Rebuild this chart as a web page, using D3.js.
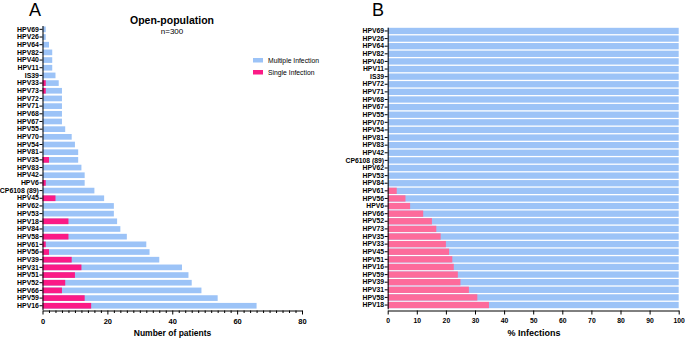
<!DOCTYPE html>
<html><head><meta charset="utf-8">
<script src="https://cdn.jsdelivr.net/npm/d3@7"></script>
<style>
body{margin:0;background:#fff;}
svg{display:block;font-family:"Liberation Sans",Arial,sans-serif;}
</style></head>
<body><svg id="c" width="685" height="338"></svg>
<script>
const categoriesA = ["HPV69","HPV26","HPV64","HPV82","HPV40","HPV11","IS39","HPV33","HPV73","HPV72","HPV71","HPV68","HPV67","HPV55","HPV70","HPV54","HPV81","HPV35","HPV83","HPV42","HPV6","CP6108 (89)","HPV45","HPV62","HPV53","HPV18","HPV84","HPV58","HPV61","HPV56","HPV39","HPV31","HPV51","HPV52","HPV66","HPV59","HPV16"];
const totalA  = [1,1,2,3,3,3,4,5,6,6,6,6,6,7,9,10,11,11,12,13,13,16,19,22,22,23,24,26,32,33,36,43,45,46,49,54,66];
const singleA = [0,0,0,0,0,0,0,1,1,0,0,0,0,0,0,0,0,2,0,0,1,0,4,0,0,8,0,8,1,2,9,12,10,7,6,13,15];
const ticksA = [0,20,40,60,80];

const categoriesB = ["HPV69","HPV26","HPV64","HPV82","HPV40","HPV11","IS39","HPV72","HPV71","HPV68","HPV67","HPV55","HPV70","HPV54","HPV81","HPV83","HPV42","CP6108 (89)","HPV62","HPV53","HPV84","HPV61","HPV56","HPV6","HPV66","HPV52","HPV73","HPV35","HPV33","HPV45","HPV51","HPV16","HPV59","HPV39","HPV31","HPV58","HPV18"];
const singlePctB = [0,0,0,0,0,0,0,0,0,0,0,0,0,0,0,0,0,0,0,0,0,3.1,6.1,7.7,12.2,15.2,16.7,18.2,20,21.1,22.2,22.7,24.1,25,27.9,30.8,34.8];
const ticksB = [0,10,20,30,40,50,60,70,80,90,100];

const BLUE = "#9cc3f7", PINK_A = "#fb1a86", PINK_B = "#fd6b9b";
const svg = d3.select("#c");

function styleAxis(a, size){
  a.selectAll("text").attr("font-weight","bold").attr("fill","#000")
   .attr("font-family","Liberation Sans, Arial").attr("font-size",size);
  a.selectAll(".domain, .tick line").attr("stroke","#000").attr("stroke-width",1);
}

// ---------- Panel A ----------
const xA = d3.scaleLinear().domain([0,80]).range([42.5,302]);
const yA = d3.scaleBand().domain(categoriesA).range([25.5,309.6]).paddingInner(0.26).paddingOuter(0.13);
const gA = svg.append("g");
gA.selectAll("rect.t").data(categoriesA).join("rect")
  .attr("x", xA(0)).attr("y", d=>yA(d)).attr("height", yA.bandwidth())
  .attr("width", (d,i)=>xA(totalA[i])-xA(0)).attr("fill", BLUE);
gA.selectAll("rect.s").data(categoriesA).join("rect")
  .attr("x", xA(0)).attr("y", d=>yA(d)).attr("height", yA.bandwidth())
  .attr("width", (d,i)=>xA(singleA[i])-xA(0)).attr("fill", PINK_A);

const axA = gA.append("g").attr("transform","translate(0,310.5)")
  .call(d3.axisBottom(xA).tickValues(ticksA).tickSize(4).tickSizeOuter(0));
styleAxis(axA, 7.5);
axA.selectAll("text").attr("dy","0.85em");
const mnA = gA.append("g").attr("transform","translate(0,310.5)")
  .call(d3.axisBottom(xA).tickValues(d3.range(0,81,2).filter(v=>v%20)).tickSize(2.5).tickFormat(""));
mnA.select(".domain").remove();
mnA.selectAll(".tick line").attr("stroke","#000");
const ayA = gA.append("g").attr("transform","translate(42.5,0)")
  .call(d3.axisLeft(yA).tickSize(3).tickSizeOuter(0).tickPadding(0.6));
styleAxis(ayA, 6.9);

svg.append("text").attr("x",29).attr("y",15.5).attr("font-size",18).text("A");
svg.append("text").attr("x",172).attr("y",24).attr("text-anchor","middle").attr("font-size",10.5).attr("font-weight","bold").text("Open-population");
svg.append("text").attr("x",172).attr("y",33.5).attr("text-anchor","middle").attr("font-size",8).text("n=300");
svg.append("text").attr("x",172.5).attr("y",336).attr("text-anchor","middle").attr("font-size",8.5).attr("font-weight","bold").text("Number of patients");

const legend = [["Multiple Infection",BLUE],["Single Infection",PINK_A]];
legend.forEach((l,i)=>{
  svg.append("rect").attr("x",253).attr("y",58+i*12).attr("width",10).attr("height",4.5).attr("fill",l[1]);
  svg.append("text").attr("x",268).attr("y",63+i*12).attr("font-size",6.8).text(l[0]);
});

// ---------- Panel B ----------
const xB = d3.scaleLinear().domain([0,100]).range([387.7,678.7]);
const yB = d3.scaleBand().domain(categoriesB).range([27.2,308.8]).paddingInner(0.17).paddingOuter(0.08);
const gB = svg.append("g");
gB.selectAll("rect.t").data(categoriesB).join("rect")
  .attr("x", xB(0)).attr("y", d=>yB(d)).attr("height", yB.bandwidth())
  .attr("width", xB(100)-xB(0)).attr("fill", BLUE);
gB.selectAll("rect.s").data(categoriesB).join("rect")
  .attr("x", xB(0)).attr("y", d=>yB(d)).attr("height", yB.bandwidth())
  .attr("width", (d,i)=>xB(singlePctB[i])-xB(0)).attr("fill", PINK_B);
const axB = gB.append("g").attr("transform","translate(0,310.5)")
  .call(d3.axisBottom(xB).tickValues(ticksB).tickSize(4).tickSizeOuter(0));
styleAxis(axB, 6.8);
axB.selectAll("text").attr("dy","0.85em");
const ayB = gB.append("g").attr("transform","translate(387.7,0)")
  .call(d3.axisLeft(yB).tickSize(3).tickSizeOuter(0).tickPadding(0.6));
styleAxis(ayB, 6.8);

svg.append("text").attr("x",372).attr("y",15.5).attr("font-size",18).text("B");
svg.append("text").attr("x",534).attr("y",336).attr("text-anchor","middle").attr("font-size",9).attr("font-weight","bold").text("% Infections");
</script></body></html>
